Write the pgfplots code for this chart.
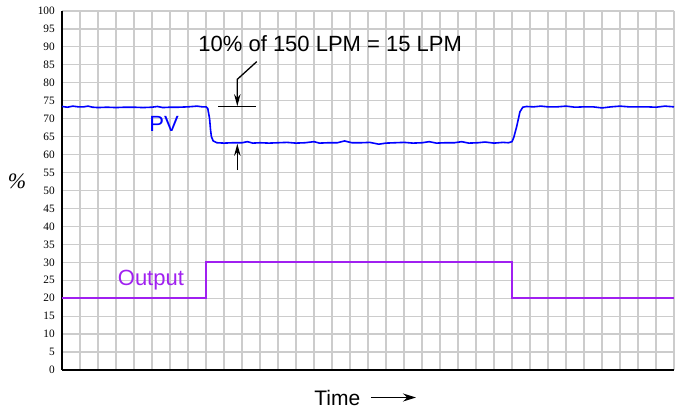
\documentclass[border=0pt]{standalone}
\usepackage{pgfplots}
\pgfplotsset{compat=1.18}
\usepackage{fontspec}
\setsansfont{Liberation Sans}
\newfontfamily\tickfont{Liberation Serif}
\usetikzlibrary{arrows.meta}
\definecolor{pvblue}{RGB}{0,0,255}
\definecolor{outpurple}{RGB}{160,32,240}
\definecolor{gridgray}{RGB}{204,204,204}

\begin{document}
\begin{tikzpicture}
\useasboundingbox (-62pt,-44pt) rectangle (620pt,370pt);
\begin{axis}[
  at={(0,0)}, anchor=origin,
  scale only axis, width=612pt, height=359pt,
  xmin=0, xmax=34, ymin=0, ymax=100,
  xtick={0,1,...,34}, xticklabels={},
  ytick={0,5,...,100},
  major tick length=0pt,
  grid=major,
  major grid style={gridgray, line width=1.2pt},
  axis x line*=bottom, axis y line*=left,
  axis line style={black, line width=1.6pt, -},
  /pgf/number format/assume math mode=true,
  yticklabel style={font=\tickfont\fontsize{11.3}{12}\selectfont, inner sep=0pt, xshift=-7pt},
  every axis y label/.style={at={(axis description cs:0,0.525)}, anchor=center, xshift=-45pt,
    font=\tickfont\itshape\fontsize{22}{24}\selectfont},
  ylabel={\%},
  every axis x label/.style={at={(axis description cs:0.496,0)}, anchor=base, yshift=-35pt,
    font=\sffamily\fontsize{21}{24}\selectfont},
  xlabel={Time\hspace{10pt}\tikz[baseline=-7.5pt]\draw[line width=1.4pt,-{Stealth[length=13pt,width=8pt]}] (0,0)--(45pt,0);},
]
% PV
\addplot[pvblue, line width=1.6pt] coordinates {
(0,73.4) (0.3,73.2) (0.6,73.5) (0.9,73.3) (1.2,73.3) (1.45,73.5) (1.7,73.2) (2.0,73.1)
(2.5,73.2) (3.0,73.1) (3.5,73.2) (4.0,73.2) (4.5,73.1) (5.0,73.2) (5.3,73.4) (5.6,73.1)
(6.0,73.2) (6.5,73.2) (7.0,73.3) (7.5,73.5) (7.8,73.3) (8.0,73.3)
(8.1,72.8) (8.2,70) (8.25,67) (8.3,65) (8.4,63.8) (8.6,63.3)
(9.0,63.2) (9.5,63.3) (10.0,63.3) (10.3,63.6) (10.6,63.2) (11,63.3) (11.5,63.2) (12,63.3)
(12.5,63.4) (13,63.2) (13.5,63.3) (14,63.6) (14.3,63.2) (14.8,63.3) (15.3,63.3) (15.7,63.8)
(16.1,63.3) (16.6,63.3) (17.1,63.4) (17.6,62.9) (18,63.2) (18.5,63.3) (19,63.4) (19.5,63.2)
(20,63.3) (20.4,63.6) (20.8,63.2) (21.3,63.3) (21.8,63.3) (22.2,63.6) (22.6,63.2) (23.1,63.3)
(23.5,63.5) (24,63.2) (24.5,63.4) (24.8,63.3) (25.0,63.6)
(25.1,64.8) (25.26,67.8) (25.44,71.9) (25.6,73.2) (25.8,73.4)
(26.2,73.3) (26.6,73.5) (27,73.3) (27.5,73.3) (28,73.5) (28.5,73.2) (29,73.3) (29.5,73.3)
(30,73.0) (30.5,73.3) (31,73.5) (31.5,73.3) (32,73.3) (32.5,73.3) (33,73.2) (33.5,73.5) (34,73.3)
};
% Output
\addplot[outpurple, line width=1.6pt] coordinates {
(0,20) (8,20) (8,30) (25,30) (25,20) (34,20)
};
% annotation
\draw[black, line width=1.3pt] (axis cs:8.67,73.35) -- (axis cs:10.78,73.35);
\draw[black, line width=1.3pt, -{Stealth[length=12pt,width=6.5pt]}]
  (axis cs:10.82,85.9) -- (axis cs:9.74,80.97) -- (axis cs:9.74,73.5);
\draw[black, line width=1.3pt, -{Stealth[length=12pt,width=6.5pt]}]
  (axis cs:9.74,55.7) -- (axis cs:9.74,63.0);
\node[anchor=base, font=\sffamily\fontsize{22}{24}\selectfont, inner sep=0pt]
  at (axis cs:14.9,88.7) {10\% of 150 LPM = 15 LPM};
\node[anchor=base, font=\sffamily\fontsize{22}{24}\selectfont, inner sep=0pt, text=pvblue]
  at (axis cs:5.67,66.4) {PV};
\node[anchor=base, font=\sffamily\fontsize{22}{24}\selectfont, inner sep=0pt, text=outpurple]
  at (axis cs:4.94,23.4) {Output};
\end{axis}
\end{tikzpicture}
\end{document}
